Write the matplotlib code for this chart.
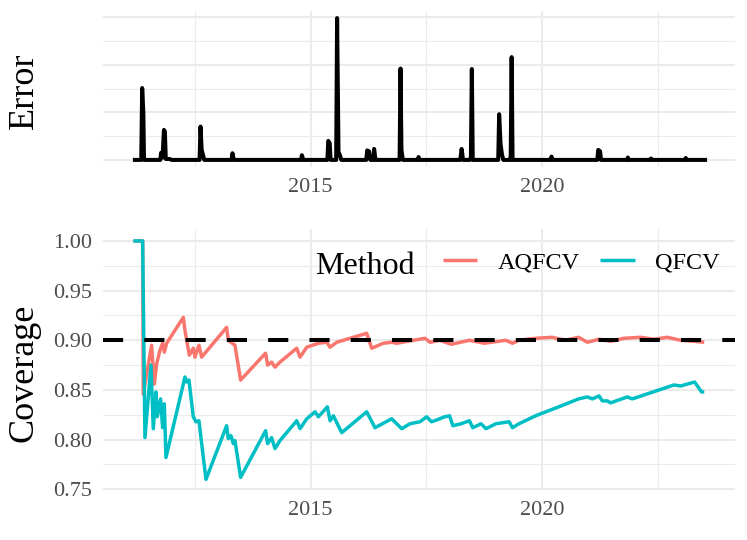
import matplotlib
matplotlib.use("Agg")
import matplotlib.pyplot as plt

plt.rcParams['font.family'] = ['Liberation Serif', 'DejaVu Serif']

# error series (top panel); y units arbitrary (labels hidden)
error_years = [2011.16, 2011.34, 2011.36, 2011.385, 2011.40, 2011.75, 2011.77, 2011.80,
               2011.83, 2011.85, 2011.87, 2011.95, 2012.00, 2012.60, 2012.62, 2012.645,
               2012.67, 2012.70, 2013.29, 2013.31, 2013.34, 2014.79, 2014.81, 2014.84,
               2015.36, 2015.38, 2015.41, 2015.43, 2015.55, 2015.57, 2015.60, 2015.63,
               2015.66, 2016.20, 2016.22, 2016.26, 2016.29, 2016.35, 2016.37, 2016.40,
               2016.92, 2016.94, 2016.96, 2016.99, 2017.31, 2017.33, 2017.35, 2018.23,
               2018.26, 2018.29, 2018.44, 2018.46, 2018.48, 2018.50, 2019.05, 2019.07,
               2019.10, 2019.13, 2019.16, 2019.31, 2019.32, 2019.34, 2019.36, 2020.18,
               2020.20, 2020.22, 2021.19, 2021.21, 2021.25, 2021.27, 2021.83, 2021.85,
               2021.87, 2022.33, 2022.35, 2022.37, 2023.08, 2023.10, 2023.12, 2023.56]
error_values = [0.0, 0.0, 1.51, 1.00, 0.0, 0.0, 0.15, 0.05,
                0.63, 0.60, 0.02, 0.02, 0.0, 0.0, 0.70, 0.21,
                0.12, 0.0, 0.0, 0.14, 0.0, 0.0, 0.10, 0.0,
                0.0, 0.40, 0.35, 0.0, 0.0, 2.98, 0.17, 0.10,
                0.0, 0.0, 0.20, 0.18, 0.0, 0.0, 0.23, 0.0,
                0.0, 1.92, 0.21, 0.0, 0.0, 0.06, 0.0, 0.0,
                0.23, 0.0, 0.0, 0.07, 1.91, 0.0, 0.0, 0.96,
                0.34, 0.12, 0.0, 0.0, 0.10, 2.16, 0.0, 0.0,
                0.07, 0.0, 0.0, 0.21, 0.18, 0.0, 0.0, 0.05,
                0.0, 0.0, 0.03, 0.0, 0.0, 0.04, 0.0, 0.0]

# coverage series (bottom panel)
aqfcv_years = [2011.17, 2011.37, 2011.384, 2011.564, 2011.622, 2011.672, 2011.744, 2011.802,
               2011.838, 2011.888, 2012.248, 2012.284, 2012.378, 2012.464, 2012.50, 2012.586,
               2012.644, 2013.184, 2013.22, 2013.364, 2013.486, 2014.026, 2014.069, 2014.156,
               2014.228, 2014.336, 2014.698, 2014.77, 2014.914, 2015.166, 2015.346, 2015.418,
               2015.562, 2015.85, 2016.209, 2016.317, 2016.569, 2016.749, 2016.857, 2017.217,
               2017.469, 2017.577, 2017.786, 2018.036, 2018.429, 2018.75, 2019.214, 2019.357,
               2019.5, 2019.857, 2020.214, 2020.5, 2020.786, 2020.975, 2021.227, 2021.478,
               2021.766, 2022.126, 2022.414, 2022.701, 2022.989, 2023.277, 2023.50]
aqfcv_values = [1.000, 1.000, 0.846, 0.895, 0.856, 0.876, 0.890, 0.897,
                0.888, 0.897, 0.923, 0.910, 0.885, 0.892, 0.883, 0.895,
                0.883, 0.913, 0.900, 0.895, 0.860, 0.887, 0.875, 0.878,
                0.873, 0.878, 0.892, 0.883, 0.893, 0.897, 0.898, 0.893,
                0.898, 0.902, 0.907, 0.892, 0.897, 0.898, 0.897, 0.900,
                0.902, 0.898, 0.900, 0.896, 0.900, 0.897, 0.900, 0.897,
                0.900, 0.902, 0.903, 0.900, 0.903, 0.898, 0.901, 0.899,
                0.902, 0.903, 0.901, 0.903, 0.900, 0.899, 0.898]

qfcv_years = [2011.17, 2011.37, 2011.42, 2011.55, 2011.60, 2011.658, 2011.686, 2011.758,
              2011.802, 2011.838, 2011.874, 2012.284, 2012.32, 2012.37, 2012.464, 2012.522,
              2012.586, 2012.738, 2013.184, 2013.22, 2013.278, 2013.328, 2013.364, 2013.486,
              2014.026, 2014.069, 2014.156, 2014.228, 2014.336, 2014.698, 2014.77, 2014.914,
              2015.094, 2015.166, 2015.36, 2015.418, 2015.49, 2015.67, 2016.209, 2016.389,
              2016.749, 2016.965, 2017.145, 2017.361, 2017.505, 2017.607, 2017.679, 2017.786,
              2017.893, 2018.0, 2018.071, 2018.25, 2018.429, 2018.5, 2018.679, 2018.786,
              2019.0, 2019.286, 2019.357, 2019.5, 2019.857, 2020.357, 2020.786, 2020.975,
              2021.083, 2021.227, 2021.299, 2021.406, 2021.478, 2021.838, 2021.946, 2022.845,
              2022.989, 2023.291, 2023.442, 2023.50]
qfcv_values = [1.000, 1.000, 0.802, 0.875, 0.811, 0.848, 0.823, 0.841,
               0.812, 0.836, 0.782, 0.863, 0.858, 0.860, 0.823, 0.818,
               0.819, 0.760, 0.814, 0.801, 0.804, 0.796, 0.799, 0.762,
               0.809, 0.796, 0.802, 0.791, 0.799, 0.819, 0.811, 0.821,
               0.828, 0.823, 0.833, 0.819, 0.824, 0.807, 0.828, 0.812,
               0.821, 0.811, 0.816, 0.818, 0.823, 0.818, 0.819, 0.821,
               0.823, 0.824, 0.814, 0.816, 0.819, 0.812, 0.816, 0.811,
               0.816, 0.818, 0.812, 0.816, 0.824, 0.833, 0.841, 0.843,
               0.841, 0.844, 0.839, 0.839, 0.837, 0.843, 0.841, 0.855,
               0.854, 0.858, 0.848, 0.848]

target = 0.9
x_major = [2015, 2020]
x_minor = [2012.5, 2017.5, 2022.5]
cov_major = [0.75, 0.80, 0.85, 0.90, 0.95, 1.00]
cov_minor = [0.775, 0.825, 0.875, 0.925, 0.975]

salmon = '#F8766D'
teal = '#00BFC4'
grid_c = '#EBEBEB'
text_c = '#4D4D4D'


def style_axis(ax):
    for s in ax.spines.values():
        s.set_visible(False)
    ax.set_xticks(x_major)
    ax.set_xticks(x_minor, minor=True)
    ax.grid(which='major', color=grid_c, linewidth=1.5)
    ax.grid(which='minor', color=grid_c, linewidth=0.8)
    ax.set_axisbelow(True)
    ax.tick_params(which='both', length=0, labelsize=16, labelcolor=text_c, pad=8)
    ax.set_xlim(2010.514, 2024.164)


fig = plt.figure(figsize=(7.47, 5.4), dpi=100)

# top panel: error
ax1 = fig.add_axes([103/747, 1-167/540, 632/747, 156/540])
style_axis(ax1)
ax1.plot(error_years, error_values, color='black', linewidth=2.9,
         solid_capstyle='butt', solid_joinstyle='round')
ax1.set_yticks([0, 1, 2, 3])
ax1.set_yticks([0.5, 1.5, 2.5], minor=True)
ax1.set_yticklabels([])
ax1.set_ylim(-0.149, 3.129)

# bottom panel: coverage
ax2 = fig.add_axes([103/747, 1-490.3/540, 632/747, 261.3/540])
style_axis(ax2)
l1, = ax2.plot(aqfcv_years, aqfcv_values, color=salmon, linewidth=2.5,
               solid_capstyle='butt', label='AQFCV')
l2, = ax2.plot(qfcv_years, qfcv_values, color=teal, linewidth=2.5,
               solid_capstyle='butt', label='QFCV')
ax2.axhline(target, color='black', linewidth=2.9, linestyle=(0, (5, 5.25)))
ax2.set_yticks(cov_major)
ax2.set_yticks(cov_minor, minor=True)
ax2.set_yticklabels(['%.2f' % v for v in cov_major])
ax2.set_ylim(0.749, 1.012)

fig.text(33/747, 1-91/540, 'Error', fontsize=26, rotation=90,
         rotation_mode='anchor', ha='center', va='baseline')
fig.text(33/747, 1-373/540, 'Coverage', fontsize=26, rotation=90,
         rotation_mode='anchor', ha='center', va='baseline')

fig.text(315/747, 1-274/540, 'Method', fontsize=23, va='baseline')
fig.legend(handles=[l1, l2], ncol=2, fontsize=17.5, frameon=False,
           loc='center left', bbox_to_anchor=(443/747, 1-262/540),
           borderpad=0, borderaxespad=0, handlelength=1.4,
           handletextpad=0.85, columnspacing=0.85)

fig.savefig('out.png', dpi=100)
